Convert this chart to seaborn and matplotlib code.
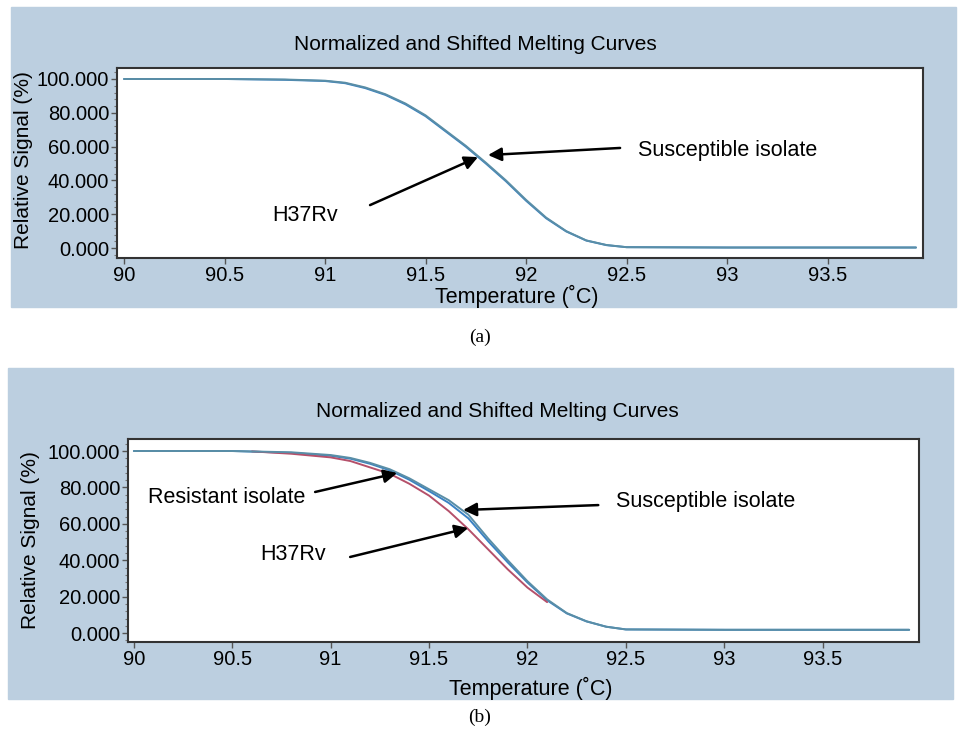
import matplotlib
matplotlib.use('Agg')
import matplotlib.pyplot as plt
from matplotlib.patches import Rectangle
from matplotlib.ticker import MultipleLocator, FormatStrFormatter
import seaborn as sns
import pandas as pd

# ---- data ----
temp = [90.0, 90.5, 90.8, 91.0, 91.1, 91.2, 91.3, 91.4, 91.5, 91.6, 91.7,
        91.8, 91.9, 92.0, 92.1, 92.2, 92.3, 92.4, 92.5, 93.0, 93.5, 93.94]

# panel (a)
a_susceptible = [100, 100, 99.7, 99.0, 97.8, 95.0, 91.0, 85.5, 78.5, 69.5, 60.5,
                 50.5, 40.0, 28.5, 18.0, 10.0, 4.5, 1.8, 0.5, 0.3, 0.3, 0.3]
a_h37rv = [100, 100, 99.5, 98.8, 97.5, 94.6, 90.6, 85.0, 78.0, 69.0, 60.0,
           50.0, 39.5, 28.0, 17.6, 9.8, 4.4, 1.7, 0.5, 0.3, 0.3, 0.3]

# panel (b)
b_susceptible = [100, 100, 99.3, 97.8, 96.2, 93.5, 90.0, 85.0, 79.0, 73.0, 65.0,
                 52.0, 40.0, 28.5, 18.5, 11.0, 6.5, 3.5, 2.0, 1.8, 1.8, 1.8]
b_h37rv = [100, 100, 99.0, 97.4, 95.8, 93.0, 89.4, 84.2, 78.0, 71.5, 63.0,
           50.5, 38.8, 27.8, 18.0, 10.8, 6.4, 3.5, 2.0, 1.8, 1.8, 1.8]
temp_res = [90.6, 90.8, 91.0, 91.1, 91.2, 91.3, 91.4, 91.5, 91.6, 91.7,
            91.8, 91.9, 92.0, 92.1]
b_resistant = [99.8, 98.5, 96.5, 94.5, 91.0, 87.5, 82.0, 75.5, 67.0, 57.0,
               46.0, 35.0, 25.0, 17.0]

x_ticks = [90, 90.5, 91, 91.5, 92, 92.5, 93, 93.5]
x_tick_labels = ['90', '90.5', '91', '91.5', '92', '92.5', '93', '93.5']
y_ticks = [0, 20, 40, 60, 80, 100]

title = 'Normalized and Shifted Melting Curves'
xlabel = 'Temperature (˚C)'
ylabel = 'Relative Signal (%)'

BOX = '#bccfe0'
TEAL = '#5a8ea6'
BLUE = '#3a82c4'
RED = '#b5506a'

sns.set_style('ticks')
plt.rcParams['font.family'] = ['Liberation Sans', 'DejaVu Sans']
plt.rcParams['text.color'] = 'black'
plt.rcParams['xtick.labelcolor'] = 'black'
plt.rcParams['ytick.labelcolor'] = 'black'

W, H = 960, 735
fig = plt.figure(figsize=(W / 100, H / 100), dpi=100, facecolor='white')


def px_rect(l, t, r, b):
    return [l / W, 1 - b / H, (r - l) / W, (b - t) / H]


def style_axes(ax, xlim, ylim):
    ax.set_xlim(*xlim)
    ax.set_ylim(*ylim)
    ax.set_xticks(x_ticks)
    ax.set_xticklabels(x_tick_labels)
    ax.set_yticks(y_ticks)
    ax.yaxis.set_major_formatter(FormatStrFormatter('%.3f'))
    ax.yaxis.set_minor_locator(MultipleLocator(4))
    ax.tick_params(axis='both', which='major', labelsize=14.5, length=4,
                   width=1, color='#555555', pad=1.5)
    ax.tick_params(axis='y', which='minor', length=2.5, width=0.8, color='#777777')
    ax.set_facecolor('white')
    for s in ax.spines.values():
        s.set_visible(True)
        s.set_color('#333333')
        s.set_linewidth(1.5)
    ax.set_xlabel('')
    ax.set_ylabel('')


def arrow(ax, text, xy, xytext, text_pos, ha='left'):
    ax.annotate('', xy=xy, xytext=xytext,
                arrowprops=dict(arrowstyle='-|>', color='black', lw=1.8,
                                mutation_scale=20, shrinkA=0, shrinkB=0))
    ax.text(text_pos[0], text_pos[1], text, fontsize=15.5, ha=ha, va='center')


# ---------------- panel (a) ----------------
fig.patches.append(Rectangle((11 / W, 1 - 307 / H), 945 / W, 300 / H,
                             transform=fig.transFigure, color=BOX, zorder=-5))
ax_a = fig.add_axes(px_rect(117, 68, 923, 258))
df_a = pd.DataFrame({'T': temp * 2,
                     'S': a_h37rv + a_susceptible,
                     'curve': ['H37Rv'] * len(temp) + ['Susceptible'] * len(temp)})
sns.lineplot(data=df_a, x='T', y='S', hue='curve',
             palette={'Susceptible': TEAL, 'H37Rv': BLUE}, linewidth=1.4,
             ax=ax_a, legend=False)
style_axes(ax_a, (89.965, 93.975), (-5.9, 106.5))
arrow(ax_a, 'Susceptible isolate', (91.811, 55.0), (92.468, 59.2), (92.557, 57.4))
arrow(ax_a, 'H37Rv', (91.761, 53.8), (91.224, 25.4), (90.90, 19.5), ha='center')

fig.text(475 / W, 1 - 44 / H, title, fontsize=15, ha='center', va='center')
fig.text(517 / W, 1 - 296 / H, xlabel, fontsize=15.5, ha='center', va='center')
fig.text(24 / W, 1 - 160 / H, ylabel, fontsize=15, ha='center', va='center',
         rotation=90)
fig.text(480 / W, 1 - 337 / H, '(a)', fontsize=14, ha='center', va='center',
         family=['Liberation Serif', 'DejaVu Serif'])

# ---------------- panel (b) ----------------
fig.patches.append(Rectangle((8 / W, 1 - 699 / H), 945 / W, 331 / H,
                             transform=fig.transFigure, color=BOX, zorder=-5))
ax_b = fig.add_axes(px_rect(128, 439, 919, 642))
df_b = pd.DataFrame({'T': temp + temp_res + temp,
                     'S': b_h37rv + b_resistant + b_susceptible,
                     'curve': ['H37Rv'] * len(temp) + ['Resistant'] * len(temp_res)
                     + ['Susceptible'] * len(temp)})
sns.lineplot(data=df_b, x='T', y='S', hue='curve',
             palette={'Susceptible': TEAL, 'H37Rv': BLUE, 'Resistant': RED},
             linewidth=1.4, ax=ax_b, legend=False)
style_axes(ax_b, (89.97, 93.99), (-4.9, 106.6))
arrow(ax_b, 'Resistant isolate', (91.338, 87.9), (90.921, 77.5), (90.071, 74.2))
arrow(ax_b, 'Susceptible isolate', (91.673, 67.6), (92.36, 70.3), (92.452, 72.0))
arrow(ax_b, 'H37Rv', (91.699, 57.7), (91.099, 41.8), (90.81, 42.9), ha='center')

fig.text(497 / W, 1 - 411 / H, title, fontsize=15, ha='center', va='center')
fig.text(531 / W, 1 - 688 / H, xlabel, fontsize=15.5, ha='center', va='center')
fig.text(31 / W, 1 - 540 / H, ylabel, fontsize=15, ha='center', va='center',
         rotation=90)
fig.text(480 / W, 1 - 717 / H, '(b)', fontsize=14, ha='center', va='center',
         family=['Liberation Serif', 'DejaVu Serif'])

fig.savefig('out.png', dpi=100, facecolor='white')
